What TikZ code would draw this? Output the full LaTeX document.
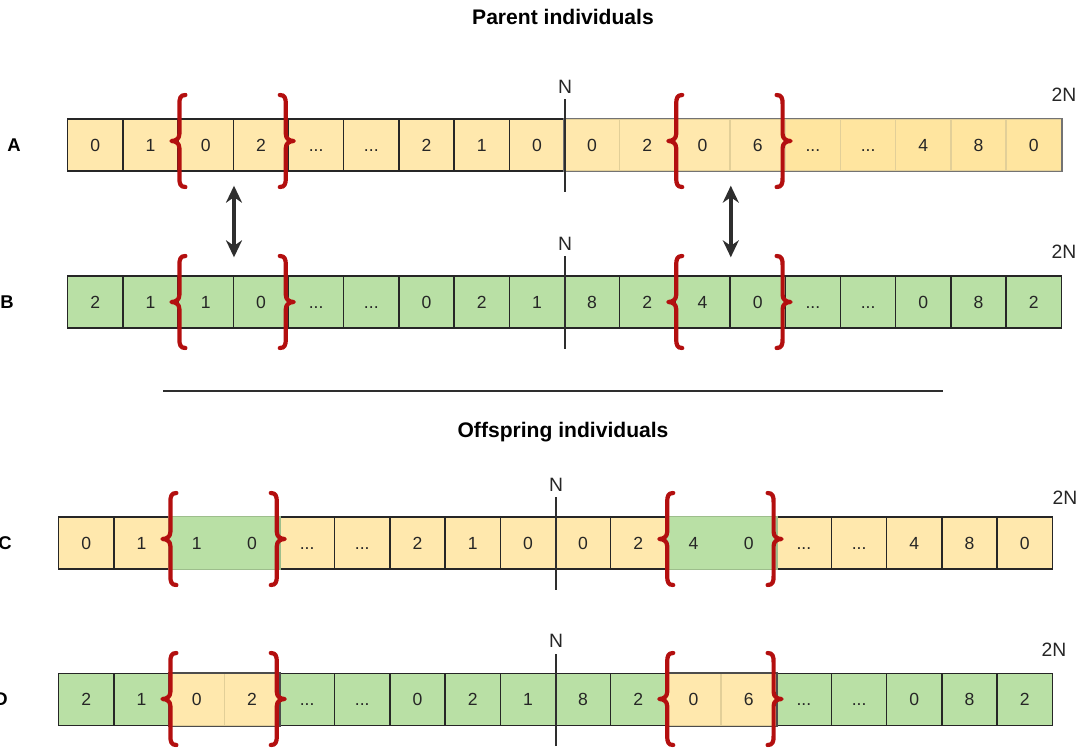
\documentclass[tikz,border=0pt]{standalone}
\usepackage{fontspec}
\setmainfont{Liberation Sans}
\usepackage{tikz}
\usetikzlibrary{positioning}
\usetikzlibrary{arrows.meta}
\usetikzlibrary{calc}
\definecolor{genyellow}{HTML}{FFE8AD}
\definecolor{genyellowb}{HTML}{FFE59F}
\definecolor{gengreen}{HTML}{B9E0A5}
\definecolor{lightedge}{HTML}{E2CF98}
\definecolor{bracered}{HTML}{B30F0F}
\definecolor{darkline}{HTML}{2E2E2E}
\newcommand{\genegap}{...}
\tikzstyle{gene}=[anchor=west,minimum width=1.104cm,minimum height=1.04cm,inner sep=0pt,text height=7.2pt,text depth=0pt,line width=0.8pt,text=black!85,font=\fontsize{10}{12}\selectfont]
\tikzstyle{yelgene}=[gene,fill=genyellow,draw=black!85]
\tikzstyle{softyel}=[gene,fill=genyellow,draw=lightedge]
\tikzstyle{deepyel}=[gene,fill=genyellowb,draw=lightedge]
\tikzstyle{grngene}=[gene,fill=gengreen,draw=black!85]
\tikzstyle{mergegrn}=[gene,fill=gengreen,draw=none]
\tikzstyle{genebrace}=[draw=bracered,line width=2.4pt,line cap=round,line join=round]
\tikzstyle{swaparrow}=[draw=darkline,line width=2pt,{Stealth[length=0.34cm,width=0.32cm]}-{Stealth[length=0.34cm,width=0.32cm]}]
\tikzstyle{midline}=[draw=darkline,line width=1pt]
\tikzstyle{tag}=[font=\fontsize{11}{13}\selectfont,text=black!85,inner sep=1pt]
\tikzstyle{rowlabel}=[font=\bfseries\fontsize{10.5}{12}\selectfont]
\tikzstyle{title}=[font=\bfseries\fontsize{12}{14}\selectfont]
% #1 = stem x, #2 = centre y
\newcommand{\genebraceL}[2]{%
  \draw[genebrace] ({#1+6},{#2-46}) .. controls ({#1+1},{#2-46}) and ({#1},{#2-43}) .. ({#1},{#2-37})
    -- ({#1},{#2-7}) .. controls ({#1},{#2-2}) and ({#1-4},{#2}) .. ({#1-8},{#2})
    .. controls ({#1-4},{#2}) and ({#1},{#2+2}) .. ({#1},{#2+7})
    -- ({#1},{#2+37}) .. controls ({#1},{#2+43}) and ({#1+1},{#2+46}) .. ({#1+6},{#2+46});}
\newcommand{\genebraceR}[2]{%
  \draw[genebrace] ({#1-6},{#2-46}) .. controls ({#1-1},{#2-46}) and ({#1},{#2-43}) .. ({#1},{#2-37})
    -- ({#1},{#2-7}) .. controls ({#1},{#2-2}) and ({#1+4},{#2}) .. ({#1+8},{#2})
    .. controls ({#1+4},{#2}) and ({#1},{#2+2}) .. ({#1},{#2+7})
    -- ({#1},{#2+37}) .. controls ({#1},{#2+43}) and ({#1-1},{#2+46}) .. ({#1-6},{#2+46});}

\begin{document}
\begin{tikzpicture}[x=0.02cm, y=-0.02cm]
    \useasboundingbox (0,0) rectangle (1081,747);

    \node[title] (tpar) at (563,17) {Parent individuals};
    \node[title] (toff) at (563,432) {Offspring individuals};

    % parent A
    \node[rowlabel] (la) at (14,145) {A};
    \foreach \val/\sty [count=\i] in {0/yelgene, 1/yelgene, 0/yelgene, 2/yelgene, \genegap/yelgene, \genegap/yelgene, 2/yelgene, 1/yelgene, 0/yelgene,
        0/softyel, 2/softyel, 0/softyel, 6/softyel, \genegap/deepyel, \genegap/deepyel, 4/deepyel, 8/deepyel, 0/deepyel}
        \node[\sty] (a\i) at ({67+(\i-1)*55.2},145) {\val};
    \draw[line width=0.8pt, black!55] (a10.north west) rectangle (a18.south east);

    % parent B
    \node[rowlabel] (lb) at (7,302) {B};
    \foreach \val [count=\i] in {2,1,1,0,\genegap,\genegap,0,2,1,8,2,4,0,\genegap,\genegap,0,8,2}
        \node[grngene] (b\i) at ({67+(\i-1)*55.2},302) {\val};

    % offspring C
    \node[rowlabel] (lc) at (5,543) {C};
    \foreach \val/\sty [count=\i] in {0/yelgene, 1/yelgene, 1/mergegrn, 0/mergegrn, \genegap/yelgene, \genegap/yelgene, 2/yelgene, 1/yelgene, 0/yelgene,
        0/yelgene, 2/yelgene, 4/mergegrn, 0/mergegrn, \genegap/yelgene, \genegap/yelgene, 4/yelgene, 8/yelgene, 0/yelgene}
        \node[\sty] (c\i) at ({58+(\i-1)*55.2},543) {\val};
    \draw[line width=0.8pt, gengreen!85!black] (c3.north west) rectangle (c4.south east);
    \draw[line width=0.8pt, gengreen!85!black] (c12.north west) rectangle (c13.south east);

    % offspring D
    \node[rowlabel] (ld) at (1,699) {D};
    \foreach \val/\sty [count=\i] in {2/grngene, 1/grngene, 0/softyel, 2/softyel, \genegap/grngene, \genegap/grngene, 0/grngene, 2/grngene, 1/grngene,
        8/grngene, 2/grngene, 0/softyel, 6/softyel, \genegap/grngene, \genegap/grngene, 0/grngene, 8/grngene, 2/grngene}
        \node[\sty] (d\i) at ({58+(\i-1)*55.2},699.5) {\val};
    \draw[line width=0.8pt, black!70] (d3.north west) rectangle (d4.south east);
    \draw[line width=0.8pt, black!70] (d12.north west) rectangle (d13.south east);

    % middle marks and ends
    \foreach \r in {a,b,c,d}
        \draw[midline] ([yshift=-0.4cm]\r9.south east) -- ([yshift=0.38cm]\r9.north east) node[tag,above=2pt] (n\r) {N};
    \node[tag] (ea) at (1064,95) {2N};
    \node[tag] (eb) at (1064,252) {2N};
    \node[tag] (ec) at (1065,498) {2N};
    \node[tag] (ed) at (1054,650) {2N};

    % crossover braces
    \foreach \bx in {177.4, 674.2} {
        \genebraceL{\bx+2}{141}
        \genebraceL{\bx+2}{302}
        \genebraceL{\bx-7}{539}
        \genebraceL{\bx-7}{699}
    }
    \foreach \bx in {287.8, 784.6} {
        \genebraceR{\bx-2}{141}
        \genebraceR{\bx-2}{302}
        \genebraceR{\bx-11}{539}
        \genebraceR{\bx-11}{699}
    }

    \draw[swaparrow] ([yshift=-0.28cm]a3.south east) -- ([yshift=0.36cm]b3.north east);
    \draw[swaparrow] ([yshift=-0.28cm]a12.south east) -- ([yshift=0.36cm]b12.north east);

    \draw[midline, line width=1.5pt] (163,391) -- (943,391);
\end{tikzpicture}
\end{document}
